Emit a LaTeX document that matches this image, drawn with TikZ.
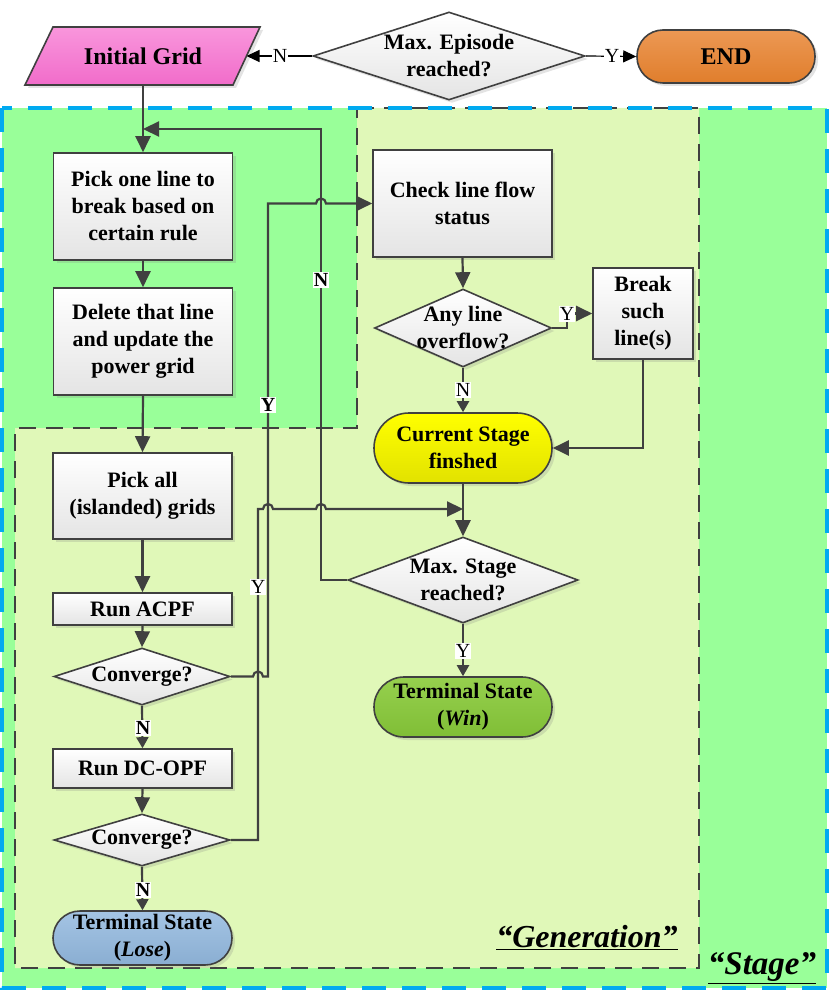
\documentclass[tikz,border=0pt]{standalone}
\usepackage{fontspec}
\setmainfont{Liberation Serif}
\usepackage{xcolor}
\usepackage{tikz}
\usetikzlibrary{arrows.meta, shapes.geometric, shadows}

\definecolor{stagegreen}{RGB}{153,255,153}
\definecolor{gengreen}{RGB}{224,248,184}
\definecolor{stageblue}{RGB}{0,170,240}
\definecolor{linegray}{RGB}{64,64,64}
\definecolor{boxgray}{RGB}{228,228,228}
\definecolor{pinktop}{RGB}{249,150,220}
\definecolor{pinkbot}{RGB}{241,108,202}
\definecolor{orangetop}{RGB}{236,152,84}
\definecolor{orangebot}{RGB}{224,126,44}
\definecolor{yellowtop}{RGB}{255,255,0}
\definecolor{yellowbot}{RGB}{226,226,0}
\definecolor{wintop}{RGB}{150,208,78}
\definecolor{winbot}{RGB}{128,190,54}
\definecolor{losetop}{RGB}{164,196,228}
\definecolor{losebot}{RGB}{138,174,210}

\begin{document}
\begin{tikzpicture}[x=1pt, y=-1pt, >={Triangle[length=16pt,width=15pt]},
    every node/.style={font={\fontsize{22}{27}\selectfont\bfseries}, align=center},
    softshadow/.style={drop shadow={shadow xshift=3pt, shadow yshift=-3pt, opacity=0.22}},
    procbox/.style={rectangle, draw=linegray, line width=1.6pt, top color=white, bottom color=boxgray, minimum width=179pt, softshadow},
    decide/.style={diamond, draw=linegray, line width=1.6pt, top color=white, bottom color=boxgray, inner sep=0pt, softshadow},
    termnl/.style={rectangle, draw=linegray, line width=1.6pt, minimum width=179pt, softshadow},
    flow/.style={draw=linegray, line width=2.2pt, ->},
    flowsm/.style={draw=linegray, line width=2.2pt, -{Triangle[length=11pt,width=12pt]}},
    topflow/.style={draw=black, line width=1.2pt, -{Triangle[length=13pt,width=12pt]}},
    yn/.style={fill=white, inner sep=1pt, font={\fontsize{20}{20}\selectfont}},
    ynb/.style={yn, font={\fontsize{20}{20}\selectfont\bfseries}}]

    \useasboundingbox (0,0) rectangle (830,992);
    \fill[white] (0,0) rectangle (830,992);

    % =================================================================
    % 1. BACKGROUND REGIONS: "STAGE" AND "GENERATION"
    % =================================================================
    \fill[stagegreen] (2,108) rectangle (827,988);
    \path[fill=gengreen] (357,108) -- (699,108) -- (699,968) -- (15,968) -- (15,428) -- (357,428) -- cycle;
    \draw[linegray, line width=2.5pt, dash pattern=on 17pt off 10pt]
        (357,108) -- (699,108) -- (699,968) -- (15,968) -- (15,428) -- (357,428) -- cycle;
    \draw[stageblue, line width=3.5pt, dash pattern=on 24pt off 16pt] (2,108) rectangle (827,988);

    \node (genlbl) at (587,938) {\fontsize{32}{32}\selectfont\bfseries\itshape\underline{“Generation”}};
    \node (stagelbl) at (762,968) {\fontsize{33}{33}\selectfont\bfseries\itshape\underline{“Stage”}};

    % =================================================================
    % 2. TOP ROW: INITIAL GRID, EPISODE CHECK, END
    % =================================================================
    \path[draw=linegray, line width=1.6pt, top color=pinktop, bottom color=pinkbot, softshadow]
        (25,85) -- (53,27) -- (260,27) -- (233,85) -- cycle;
    \node (init) at (143,56) {\fontsize{24}{27}\selectfont Initial Grid};
    \coordinate (initE) at (246.5,56);
    \coordinate (initS) at (143,85);

    \node[decide, minimum width=272pt, minimum height=88pt,
        label={center:{Max. Episode\\reached?}}] (ep) at (449,56) {};
    \node[termnl, minimum width=178pt, minimum height=53pt, rounded corners=26pt,
        top color=orangetop, bottom color=orangebot] (endn) at (726,56.5) {\fontsize{24}{27}\selectfont END};

    % =================================================================
    % 3. LEFT COLUMN
    % =================================================================
    \node[procbox, minimum height=107pt] (pick) at (143,206.5) {Pick one line to\\break based on\\certain rule};
    \node[procbox, minimum height=107pt] (del) at (143,341.5) {Delete that line\\and update the\\power grid};
    \node[procbox, minimum height=86pt] (isl) at (142.5,496) {Pick all\\(islanded) grids};
    \node[procbox, minimum height=32pt] (acpf) at (142.5,609) {Run ACPF};
    \node[decide, minimum width=176pt, minimum height=57pt,
        label={center:{Converge?}}] (conv1) at (142,676.5) {};
    \node[procbox, minimum height=39pt] (dcopf) at (142.5,768.5) {Run DC-OPF};
    \node[decide, minimum width=176pt, minimum height=52pt,
        label={center:{Converge?}}] (conv2) at (142,840) {};
    \node[termnl, minimum height=54pt, rounded corners=27pt,
        top color=losetop, bottom color=losebot] (lose) at (142.5,938) {Terminal State\\(\textit{Lose})};

    % =================================================================
    % 4. RIGHT COLUMN
    % =================================================================
    \node[procbox, minimum height=107pt] (check) at (462.5,203.5) {Check line flow\\status};
    \node[decide, minimum width=177pt, minimum height=78pt,
        label={center:{Any line\\overflow?}}] (anyl) at (463,328) {};
    \node[procbox, minimum width=100pt, minimum height=91pt] (brk) at (643,313.5) {Break\\such\\line(s)};
    \node[termnl, minimum width=178pt, minimum height=70pt, rounded corners=35pt,
        top color=yellowtop, bottom color=yellowbot] (cur) at (463,448) {Current Stage\\finshed};
    \node[decide, minimum width=230pt, minimum height=86pt,
        label={center:{Max. Stage\\reached?}}] (maxs) at (463,580) {};
    \node[termnl, minimum width=178pt, minimum height=60pt, rounded corners=30pt,
        top color=wintop, bottom color=winbot] (win) at (463,707) {Terminal State\\(\textit{Win})};

    % =================================================================
    % 5. CONNECTORS
    % =================================================================
    \draw[topflow] (ep.west) -- (initE);
    \draw[topflow] (ep.east) -- (endn.west);
    \draw[flow] (initS) -- (pick.north);
    \draw[flow] (maxs.west) -- (321,580) -- (321,129) -- (143,129);
    \draw[flow] (pick.south) -- (del.north);
    \draw[flow] (del.south) -- (isl.north);
    \draw[flow] (isl.south) -- (acpf.north);
    \draw[flow] (acpf.south) -- (conv1.north);
    \draw[flowsm] (conv1.south) -- (dcopf.north);
    \draw[flow] (dcopf.south) -- (conv2.north);
    \draw[flowsm] (conv2.south) -- (lose.north);

    % converge (ACPF) -> back to line flow check, hopping over crossings
    \draw[flow] (conv1.east) -- (253,676.5) arc[start angle=180, end angle=0, radius=5pt]
        -- (268,676.5) -- (268,203.5) -- (316,203.5) arc[start angle=180, end angle=0, radius=5pt]
        -- (check.west);
    % converge (DC-OPF) -> max. stage check
    \draw[flow] (conv2.east) -- (258,840) -- (258,509) -- (263,509)
        arc[start angle=180, end angle=0, radius=5pt] -- (316,509)
        arc[start angle=180, end angle=0, radius=5pt] -- (463,509);

    \draw[flow] (check.south) -- (anyl.north);
    \draw[flow] (anyl.east) -- (567,328) |- (brk.west);
    \draw[flowsm] (anyl.south) -- (cur.north);
    \draw[flow] (brk.south) |- (cur.east);
    \draw[flow] (cur.south) -- (maxs.north);
    \draw[flowsm] (maxs.south) -- (win.north);

    % =================================================================
    % 6. Y / N LABELS
    % =================================================================
    \node[yn] (lN0) at (280,56) {N};
    \node[yn] (lY0) at (612,56) {Y};
    \node[ynb] (lNloop) at (321,280) {N};
    \node[ynb] (lYup) at (268,405) {Y};
    \node[yn] (lYdn) at (258,587) {Y};
    \node[yn] (lNany) at (463,390) {N};
    \node[yn] (lYany) at (567,314) {Y};
    \node[yn] (lYmax) at (463,651) {Y};
    \node[ynb] (lN1) at (143,728) {N};
    \node[ynb] (lN2) at (143,890) {N};

\end{tikzpicture}
\end{document}
